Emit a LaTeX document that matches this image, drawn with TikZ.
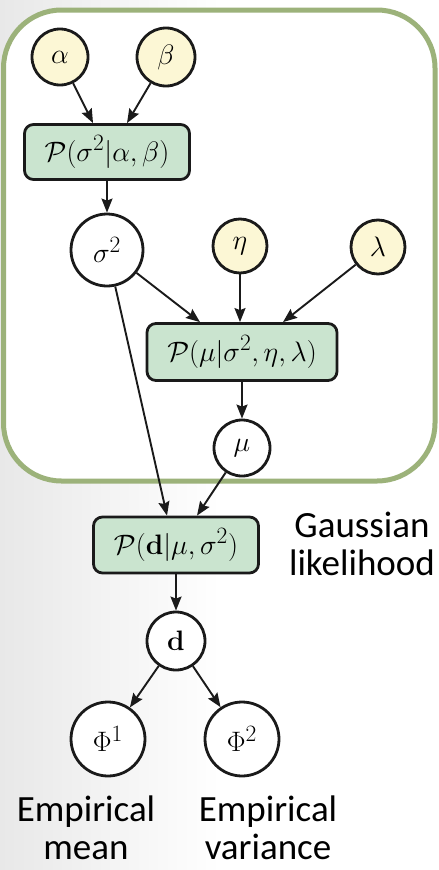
\documentclass[tikz,border=0pt]{standalone}
\usepackage{graphicx}
\usepackage[no-math]{fontspec}
\setmainfont{Carlito}
\usetikzlibrary{arrows.meta,calc}

\definecolor{ink}{HTML}{1A1A1A}
\definecolor{framegreen}{HTML}{9CB27A}
\definecolor{hyperfill}{HTML}{FCF7D5}
\definecolor{factorfill}{HTML}{CAE4CF}

% Computer Modern math stops at 24.88pt, so formulas are scaled up from there
\newcommand\gmsize{\fontsize{24.88}{30}\selectfont}
\newcommand\mth[1]{\scalebox{1.13}{$#1$}}
\newcommand\lblsize{\fontsize{37}{38}\selectfont}

\begin{document}
\begin{tikzpicture}[x=1pt,y=-1pt,
  hyper/.style={circle,draw=ink,line width=2.8pt,fill=hyperfill,inner sep=0pt,font=\gmsize},
  latent/.style={circle,draw=ink,line width=2.8pt,fill=white,inner sep=0pt,font=\gmsize},
  factor/.style={rectangle,rounded corners=9pt,draw=ink,line width=2.8pt,fill=factorfill,inner sep=0pt,font=\gmsize},
  arr/.style={draw=ink,line width=1.9pt,-{Stealth[length=14pt,width=11pt,inset=2pt]}},
  frame/.style={draw=framegreen,line width=5pt,fill=white,rounded corners=58pt},
  lbl/.style={align=center,font=\lblsize,inner sep=0pt}]

  % page and soft grey shading on the left
  \useasboundingbox (0,0) rectangle (439,870);
  \fill[white] (0,0) rectangle (439,870);
  \shade[left color=gray!18,right color=white] (0,0) rectangle (220,870);

  % plate around the prior
  \draw[frame] (3.5,10) rectangle (435,481);

  % hyperparameters, factors and variables
  \node[hyper, minimum size=56pt] (alpha) at (60,57) {\mth{\alpha}};
  \node[hyper, minimum size=58pt] (beta) at (166,57) {\mth{\beta}};
  \node[factor, minimum width=165pt, minimum height=55pt] (pS) at (107,152) {\mth{\mathcal{P}(\sigma^2|\alpha,\beta)}};
  \node[latent, minimum size=72pt] (sigma) at (107,250) {\mth{\sigma^2}};
  \node[hyper, minimum size=54pt] (eta) at (240,246) {\mth{\eta}};
  \node[hyper, minimum size=54pt] (lambda) at (378,247) {\mth{\lambda}};
  \node[factor, minimum width=190pt, minimum height=57pt] (pM) at (242,352) {\mth{\mathcal{P}(\mu|\sigma^2,\eta,\lambda)}};
  \node[latent, minimum size=56pt] (mu) at (242,448) {\mth{\mu}};
  \node[factor, minimum width=165pt, minimum height=56pt] (pD) at (176,545) {\mth{\mathcal{P}(\mathbf{d}|\mu,\sigma^2)}};
  \node[latent, minimum size=58pt] (d) at (176,641) {\mth{\mathbf{d}}};
  \node[latent, minimum size=74pt] (phiA) at (108,739) {\mth{\Phi^1}};
  \node[latent, minimum size=74pt] (phiB) at (242,739) {\mth{\Phi^2}};

  % dependencies
  \draw[arr] (alpha) -- ($(pS.north)+(-14,0)$);
  \draw[arr] (beta) -- ($(pS.north)+(20,0)$);
  \draw[arr] (pS) -- (sigma);
  \draw[arr] (sigma) -- ($(pM.north)+(-42,0)$);
  \draw[arr] (eta) -- ($(pM.north)+(-2,0)$);
  \draw[arr] (lambda) -- ($(pM.north)+(41,0)$);
  \draw[arr] (sigma) -- ($(pD.north)+(-9,0)$);
  \draw[arr] (pM) -- (mu);
  \draw[arr] (mu) -- ($(pD.north)+(21,0)$);
  \draw[arr] (pD) -- (d);
  \draw[arr] (d) -- (phiA);
  \draw[arr] (d) -- (phiB);

  % captions
  \node[lbl] (gauss) at (362,544) {Gaussian\\likelihood};
  \node[lbl] (emean) at (86,828) {Empirical\\mean};
  \node[lbl] (evar) at (268,828) {Empirical\\variance};
\end{tikzpicture}
\end{document}
